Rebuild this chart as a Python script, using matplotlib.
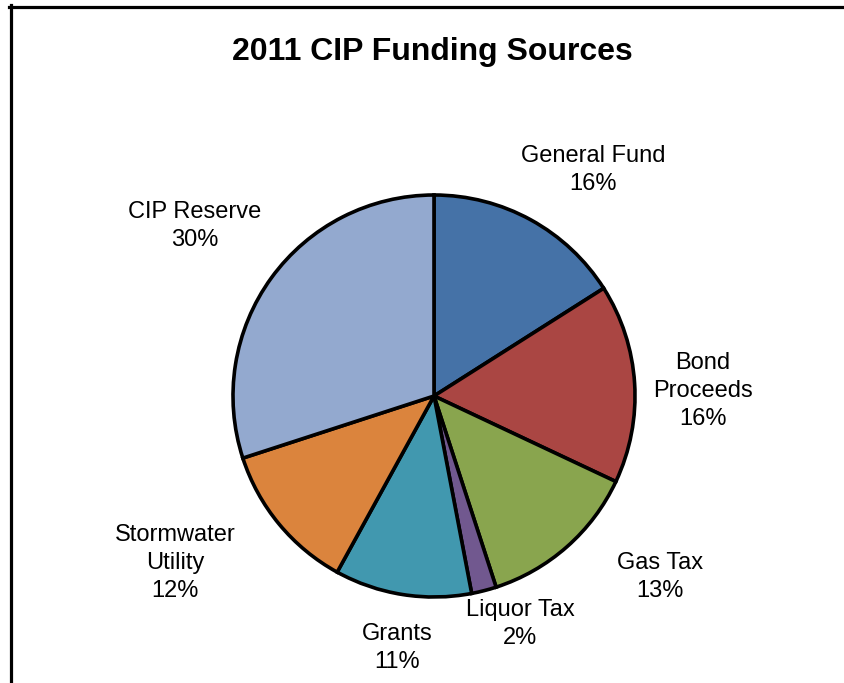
import numpy as np
import matplotlib
matplotlib.use("Agg")
import matplotlib.pyplot as plt
from matplotlib.lines import Line2D

plt.rcParams['font.family'] = ['Liberation Sans', 'DejaVu Sans']

# funding sources (percent of total)
sources = ['General Fund', 'Bond\nProceeds', 'Gas Tax', 'Liquor Tax', 'Grants',
           'Stormwater\nUtility', 'CIP Reserve']
shares = [16, 16, 13, 2, 11, 12, 30]
colors = ['#4572A7', '#AA4643', '#89A54E', '#71588F', '#4198AF', '#DB843D', '#93A9CF']

# label centres in pixels (x, y from top) on an 844x683 canvas
label_px = [(593, 170), (703, 391), (660, 577), (520, 624), (397, 648),
            (175, 563), (195, 226)]

W, H = 844, 683
cx, cy, R = 434, 396, 201

fig = plt.figure(figsize=(W / 100, H / 100), dpi=100)
ax = fig.add_axes([0, 0, 1, 1])

wedges, _ = ax.pie(shares, colors=colors, startangle=90, counterclock=False,
                   radius=1.0, wedgeprops=dict(edgecolor='black', linewidth=2.6))

ax.set_xlim(-cx / R, (W - cx) / R)
ax.set_ylim((cy - H) / R, cy / R)
ax.set_aspect('auto')
ax.axis('off')

for name, val, (px, py) in zip(sources, shares, label_px):
    ax.text((px - cx) / R, (cy - py) / R, f"{name}\n{val}%", ha='center', va='center',
            fontsize=17, linespacing=1.35, color='black')

fig.text(432 / W, 1 - 52 / H, '2011 CIP Funding Sources', ha='center', va='center',
         fontsize=23, fontweight='bold')

# chart area border (top and left edges)
fig.add_artist(Line2D([9 / W, 1], [1 - 6.5 / H, 1 - 6.5 / H], color='black',
                      linewidth=2.3, transform=fig.transFigure))
fig.add_artist(Line2D([10.5 / W, 10.5 / W], [0, 1 - 5 / H], color='black',
                      linewidth=2.3, transform=fig.transFigure))

fig.savefig('out.png', dpi=100, facecolor='white')
